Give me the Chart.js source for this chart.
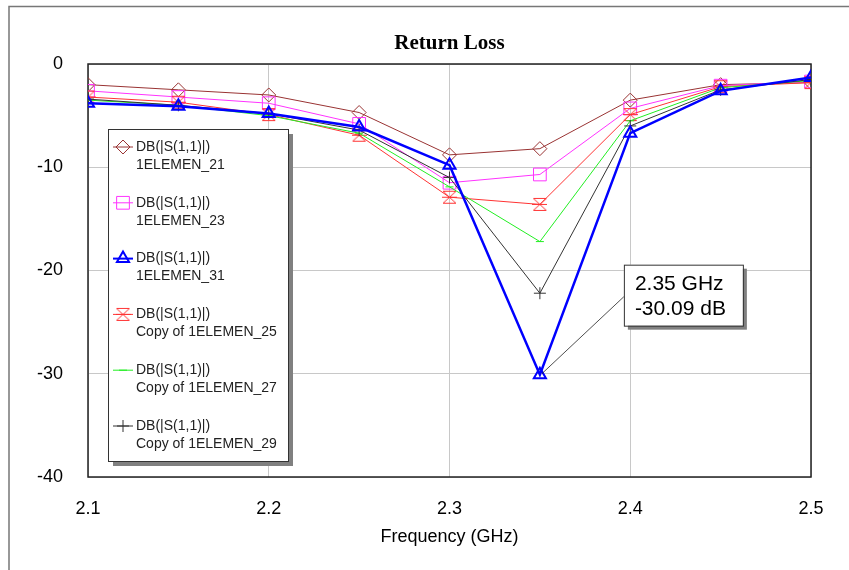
<!DOCTYPE html>
<html>
<head>
<meta charset="utf-8">
<script src="https://cdn.jsdelivr.net/npm/chart.js@4.4.1/dist/chart.umd.min.js"></script>
<style>
  html, body { margin: 0; padding: 0; background: #fff; }
  #wrap { position: relative; width: 849px; height: 570px; }
</style>
</head>
<body>
<div id="wrap"><canvas id="c" width="849" height="570"></canvas></div>
<script>
// Frequency points (GHz)
const freqs = [2.1, 2.15, 2.2, 2.25, 2.3, 2.35, 2.4, 2.45, 2.5];

// DB(|S(1,1)|) per design
const elemen21 = [-2.0, -2.5, -3.0, -4.7, -8.8, -8.2, -3.5, -2.0, -1.8];
const elemen23 = [-2.6, -3.2, -3.8, -5.8, -11.5, -10.7, -4.3, -2.1, -1.7];
const elemen31 = [-3.8, -4.1, -4.8, -6.1, -9.8, -30.09, -6.7, -2.6, -1.3];
const copy25 = [-3.2, -3.7, -4.9, -6.9, -12.9, -13.6, -4.9, -2.2, -1.8];
const copy27 = [-3.5, -4.0, -5.0, -6.7, -11.9, -17.2, -5.5, -2.3, -1.6];
const copy29 = [-3.4, -4.0, -4.8, -6.4, -11.0, -22.2, -6.0, -2.5, -1.5];

const seriesNames = ['1ELEMEN_21', '1ELEMEN_23', '1ELEMEN_31', 'Copy of 1ELEMEN_25', 'Copy of 1ELEMEN_27', 'Copy of 1ELEMEN_29'];
const measure = 'DB(|S(1,1)|)';

const xTicks = [2.1, 2.2, 2.3, 2.4, 2.5];
const yTicks = [0, -10, -20, -30, -40];

// marker readout
const markerX = 2.35;
const markerY = -30.09;
const markerLines = ['2.35 GHz', '-30.09 dB'];

const SANS = '"Liberation Sans", Arial, sans-serif';

// hourglass marker (not built into Chart.js)
function hourglass(color) {
  const c = document.createElement('canvas');
  c.width = 15; c.height = 15;
  const g = c.getContext('2d');
  g.strokeStyle = color;
  g.lineWidth = 1;
  g.beginPath();
  g.moveTo(1, 1.5); g.lineTo(14, 1.5); g.lineTo(1, 13.5); g.lineTo(14, 13.5); g.closePath();
  g.stroke();
  g.beginPath(); g.moveTo(0, 7.5); g.lineTo(15, 7.5); g.stroke();
  return c;
}

function ds(label, data, color, style, radius, width, order) {
  return {
    label, data: freqs.map((f, i) => ({ x: f, y: data[i] })),
    borderColor: color, backgroundColor: 'transparent',
    borderWidth: width, pointStyle: style, pointRadius: radius,
    pointBorderColor: color, pointBackgroundColor: 'transparent',
    pointBorderWidth: width > 1 ? 2 : 1, tension: 0, order
  };
}

const datasets = [
  ds(seriesNames[0], elemen21, '#993333', 'rectRot', 7, 1, 5),
  ds(seriesNames[1], elemen23, '#ff33ff', 'rect', 9, 1, 4),
  ds(seriesNames[2], elemen31, '#0000ff', 'triangle', 7, 2.5, 0),
  ds(seriesNames[3], copy25, '#ff3333', hourglass('#ff3333'), 7, 1, 3),
  ds(seriesNames[4], copy27, '#22ee22', 'line', 4, 1, 2),
  ds(seriesNames[5], copy29, '#333333', 'cross', 6, 1, 1)
];

function drawMark(ctx, d, x, y) {
  ctx.save();
  ctx.strokeStyle = d.borderColor;
  ctx.fillStyle = 'rgba(0,0,0,0)';
  ctx.lineWidth = d.borderWidth > 1 ? 2 : 1;
  ctx.beginPath(); ctx.moveTo(x - 10, y); ctx.lineTo(x + 10, y); ctx.stroke();
  if (typeof d.pointStyle !== 'string') {
    ctx.drawImage(d.pointStyle, x - 7.5, y - 7.5);
  } else if (Chart.helpers && Chart.helpers.drawPoint) {
    Chart.helpers.drawPoint(ctx, {
      pointStyle: d.pointStyle, radius: d.pointRadius, rotation: 0,
      borderWidth: d.pointBorderWidth
    }, x, y);
  }
  ctx.restore();
}

const decor = {
  id: 'decor',
  beforeDatasetsDraw(chart) {
    const { ctx, chartArea: a } = chart;
    ctx.save();
    ctx.strokeStyle = '#222';
    ctx.lineWidth = 1.5;
    ctx.strokeRect(a.left, a.top, a.right - a.left, a.bottom - a.top);
    ctx.restore();
  },
  afterDraw(chart) {
    const { ctx, chartArea: a, scales } = chart;
    ctx.save();
    // outer frame
    ctx.strokeStyle = '#777';
    ctx.lineWidth = 1.5;
    ctx.strokeRect(9, 6.5, 900, 700);

    // title
    ctx.fillStyle = '#000';
    ctx.textAlign = 'center';
    ctx.textBaseline = 'middle';
    ctx.font = 'bold 21px "Liberation Serif", "Times New Roman", serif';
    ctx.fillText('Return Loss', (a.left + a.right) / 2, 44);
    ctx.font = '18px ' + SANS;
    ctx.fillText('Frequency (GHz)', (a.left + a.right) / 2, 537);

    // legend box
    const lx = 108, ly = 129, lw = 180, lh = 332;
    ctx.fillStyle = '#808080';
    ctx.fillRect(lx + 5, ly + 5, lw, lh);
    ctx.fillStyle = '#fff';
    ctx.fillRect(lx, ly, lw, lh);
    ctx.strokeStyle = '#333';
    ctx.lineWidth = 1;
    ctx.strokeRect(lx + 0.5, ly + 0.5, lw, lh);
    ctx.font = '14px ' + SANS;
    ctx.textAlign = 'left';
    datasets.forEach((d, i) => {
      const y = ly + 18 + i * 55.8;
      drawMark(ctx, d, lx + 15, y);
      ctx.fillStyle = '#222';
      ctx.fillText(measure, lx + 28, y);
      ctx.fillText(d.label, lx + 28, y + 18);
    });

    // marker readout
    const px = scales.x.getPixelForValue(markerX);
    const py = scales.y.getPixelForValue(markerY);
    const bx = px + 84, by = py - 110, bw = 119, bh = 61;
    ctx.strokeStyle = '#222';
    ctx.lineWidth = 0.8;
    ctx.beginPath(); ctx.moveTo(px + 2, py - 1); ctx.lineTo(bx, by + 32); ctx.stroke();
    ctx.fillStyle = '#808080';
    ctx.fillRect(bx + 4, by + 4, bw, bh);
    ctx.fillStyle = '#fff';
    ctx.fillRect(bx, by, bw, bh);
    ctx.strokeStyle = '#333';
    ctx.lineWidth = 1;
    ctx.strokeRect(bx + 0.5, by + 0.5, bw, bh);
    ctx.fillStyle = '#000';
    ctx.font = '21px ' + SANS;
    ctx.fillText(markerLines[0], bx + 11, by + 20);
    ctx.fillText(markerLines[1], bx + 11, by + 45);
    ctx.restore();
  }
};

new Chart(document.getElementById('c'), {
  type: 'line',
  data: { datasets },
  options: {
    responsive: false,
    animation: false,
    events: [],
    layout: { padding: { left: 10, top: 64, right: 38, bottom: 0 } },
    plugins: { legend: { display: false }, tooltip: { enabled: false }, title: { display: false } },
    scales: {
      x: {
        type: 'linear', min: 2.1, max: 2.5,
        afterBuildTicks: s => { s.ticks = xTicks.map(v => ({ value: v })); },
        afterFit: s => { s.height = 93; },
        ticks: { color: '#000', font: { family: SANS, size: 18 }, padding: 21, maxRotation: 0,
          callback: v => v.toFixed(1) },
        grid: { color: '#c8c8c8', lineWidth: 1, drawTicks: false },
        border: { display: false }
      },
      y: {
        min: -40, max: 0,
        afterBuildTicks: s => { s.ticks = yTicks.map(v => ({ value: v })); },
        afterFit: s => { s.width = 78; },
        ticks: { color: '#000', font: { family: SANS, size: 18 }, padding: 25 },
        grid: { color: '#c8c8c8', lineWidth: 1, drawTicks: false },
        border: { display: false }
      }
    }
  },
  plugins: [decor]
});
</script>
</body>
</html>
